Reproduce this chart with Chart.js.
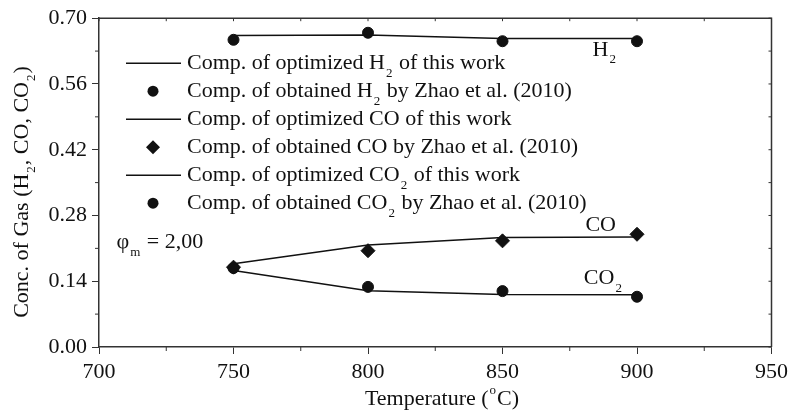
<!DOCTYPE html>
<html>
<head>
<meta charset="utf-8">
<script src="https://cdn.jsdelivr.net/npm/chart.js@4"></script>
<style>
  html, body { margin: 0; padding: 0; background: #fff; }
  #wrap { width: 793px; height: 412px; }
</style>
</head>
<body>
<div id="wrap"><canvas id="gasChart" width="793" height="412"></canvas></div>
<script>
// data
const temps = [750, 800, 850, 900];
const h2Model = [0.663, 0.664, 0.657, 0.657];
const h2Zhao = [0.654, 0.669, 0.651, 0.651];
const coModel = [0.177, 0.217, 0.233, 0.234];
const coZhao = [0.170, 0.205, 0.226, 0.240];
const co2Model = [0.163, 0.120, 0.112, 0.111];
const co2Zhao = [0.168, 0.128, 0.119, 0.107];

const xTicks = [700, 750, 800, 850, 900, 950];
const xMinor = [725, 775, 825, 875, 925];
const yTicks = [0, 0.14, 0.28, 0.42, 0.56, 0.70];
const yMinor = [0.07, 0.21, 0.35, 0.49, 0.63];

const FONT = '"Liberation Serif", "Times New Roman", serif';
const SIZE = 22;
const INK = '#111';

const pts = arr => temps.map((t, i) => ({ x: t, y: arr[i] }));

// text with sub/superscripts: parts like ['H', ['2', 'sub'], ...]
function richWidth(ctx, parts, size) {
  let w = 0;
  parts.forEach(p => {
    if (typeof p === 'string') { ctx.font = size + 'px ' + FONT; w += ctx.measureText(p).width; }
    else { ctx.font = Math.round(size * 0.6) + 'px ' + FONT; w += ctx.measureText(p[0]).width + 2; }
  });
  return w;
}
function drawRich(ctx, parts, x, y, size, align) {
  let cx = align === 'center' ? x - richWidth(ctx, parts, size) / 2 : x;
  ctx.textBaseline = 'middle';
  ctx.textAlign = 'left';
  ctx.fillStyle = INK;
  parts.forEach(p => {
    if (typeof p === 'string') {
      ctx.font = size + 'px ' + FONT;
      ctx.fillText(p, cx, y);
      cx += ctx.measureText(p).width;
    } else {
      ctx.font = Math.round(size * 0.6) + 'px ' + FONT;
      const dy = p[1] === 'sub' ? size * 0.45 : -size * 0.38;
      ctx.fillText(p[0], cx + 1, y + dy);
      cx += ctx.measureText(p[0]).width + 2;
    }
  });
}

const legendRows = [
  { kind: 'line', parts: ['Comp. of optimized H', ['2', 'sub'], ' of this work'] },
  { kind: 'circle', parts: ['Comp. of obtained H', ['2', 'sub'], ' by Zhao et al. (2010)'] },
  { kind: 'line', parts: ['Comp. of optimized CO of this work'] },
  { kind: 'diamond', parts: ['Comp. of obtained CO by Zhao et al. (2010)'] },
  { kind: 'line', parts: ['Comp. of optimized CO', ['2', 'sub'], ' of this work'] },
  { kind: 'circle', parts: ['Comp. of obtained CO', ['2', 'sub'], ' by Zhao et al. (2010)'] }
];

const decorations = {
  id: 'decorations',
  afterDraw(chart) {
    const ctx = chart.ctx;
    const a = chart.chartArea;
    const xs = chart.scales.x, ys = chart.scales.y;
    ctx.save();
    ctx.strokeStyle = '#333';
    ctx.lineWidth = 1.5;
    // frame top and right
    ctx.beginPath();
    ctx.moveTo(a.left, a.top); ctx.lineTo(a.right, a.top); ctx.lineTo(a.right, a.bottom);
    ctx.stroke();
    // minor ticks outside, small inward ticks on top/right
    ctx.lineWidth = 1;
    ctx.beginPath();
    xMinor.forEach(v => { const px = xs.getPixelForValue(v); ctx.moveTo(px, a.bottom); ctx.lineTo(px, a.bottom + 4); });
    yMinor.forEach(v => { const py = ys.getPixelForValue(v); ctx.moveTo(a.left, py); ctx.lineTo(a.left - 4, py); });
    xTicks.concat(xMinor).forEach(v => { const px = xs.getPixelForValue(v); ctx.moveTo(px, a.top); ctx.lineTo(px, a.top + 3); });
    yTicks.concat(yMinor).forEach(v => { const py = ys.getPixelForValue(v); ctx.moveTo(a.right, py); ctx.lineTo(a.right - 3, py); });
    ctx.stroke();

    // legend
    const lx = a.left + 54, ty = a.top + 45, gap = 28;
    legendRows.forEach((r, i) => {
      const y = ty + i * gap;
      ctx.fillStyle = INK; ctx.strokeStyle = INK;
      if (r.kind === 'line') {
        ctx.lineWidth = 1.5;
        ctx.beginPath(); ctx.moveTo(lx - 27, y); ctx.lineTo(lx + 28, y); ctx.stroke();
      } else if (r.kind === 'circle') {
        ctx.beginPath(); ctx.arc(lx, y, 5.5, 0, Math.PI * 2); ctx.fill();
      } else {
        ctx.beginPath();
        ctx.moveTo(lx, y - 7); ctx.lineTo(lx + 7, y); ctx.lineTo(lx, y + 7); ctx.lineTo(lx - 7, y);
        ctx.closePath(); ctx.fill();
      }
      drawRich(ctx, r.parts, lx + 34, y, SIZE, 'left');
    });

    // curve labels
    drawRich(ctx, ['H', ['2', 'sub']], xs.getPixelForValue(888), ys.getPixelForValue(0.632), SIZE, 'center');
    drawRich(ctx, ['CO'], xs.getPixelForValue(886.5), ys.getPixelForValue(0.259), SIZE, 'center');
    drawRich(ctx, ['CO', ['2', 'sub']], xs.getPixelForValue(887.5), ys.getPixelForValue(0.146), SIZE, 'center');
    drawRich(ctx, ['\u03c6', ['m', 'sub'], ' = 2,00'], xs.getPixelForValue(706.5), ys.getPixelForValue(0.223), SIZE, 'left');

    // axis titles
    drawRich(ctx, ['Temperature (', ['o', 'sup'], 'C)'], 442, 399, SIZE, 'center');
    ctx.translate(22, 192);
    ctx.rotate(-Math.PI / 2);
    drawRich(ctx, ['Conc. of Gas (H', ['2', 'sub'], ', CO, CO', ['2', 'sub'], ')'], 0, 0, SIZE, 'center');
    ctx.restore();
  }
};

const ctx = document.getElementById('gasChart').getContext('2d');
new Chart(ctx, {
  type: 'line',
  data: {
    datasets: [
      { label: 'Comp. of optimized H2 of this work', data: pts(h2Model), borderColor: INK, borderWidth: 1.5, pointRadius: 0, tension: 0 },
      { label: 'Comp. of obtained H2 by Zhao et al. (2010)', data: pts(h2Zhao), showLine: false, pointStyle: 'circle', pointRadius: 5.5, backgroundColor: INK, borderColor: INK },
      { label: 'Comp. of optimized CO of this work', data: pts(coModel), borderColor: INK, borderWidth: 1.5, pointRadius: 0, tension: 0 },
      { label: 'Comp. of obtained CO by Zhao et al. (2010)', data: pts(coZhao), showLine: false, pointStyle: 'rectRot', pointRadius: 7, backgroundColor: INK, borderColor: INK },
      { label: 'Comp. of optimized CO2 of this work', data: pts(co2Model), borderColor: INK, borderWidth: 1.5, pointRadius: 0, tension: 0 },
      { label: 'Comp. of obtained CO2 by Zhao et al. (2010)', data: pts(co2Zhao), showLine: false, pointStyle: 'circle', pointRadius: 5.5, backgroundColor: INK, borderColor: INK }
    ]
  },
  options: {
    responsive: false,
    animation: false,
    layout: { padding: { top: 16, right: 20, left: 0, bottom: 0 } },
    plugins: { legend: { display: false }, tooltip: { enabled: false } },
    scales: {
      x: {
        type: 'linear',
        min: 700, max: 950,
        afterBuildTicks: s => { s.ticks = xTicks.map(v => ({ value: v })); },
        afterFit: s => { s.height = 65; },
        ticks: { color: INK, font: { family: FONT, size: SIZE }, padding: 5, maxRotation: 0 },
        grid: { drawOnChartArea: false, drawTicks: true, tickLength: 7, color: '#333' },
        border: { display: true, color: '#333', width: 1.5 }
      },
      y: {
        min: 0, max: 0.70,
        afterBuildTicks: s => { s.ticks = yTicks.map(v => ({ value: v })); },
        afterFit: s => { s.width = 99; },
        ticks: { color: INK, font: { family: FONT, size: SIZE }, padding: 5, callback: v => v.toFixed(2) },
        grid: { drawOnChartArea: false, drawTicks: true, tickLength: 7, color: '#333' },
        border: { display: true, color: '#333', width: 1.5 }
      }
    }
  },
  plugins: [decorations]
});
</script>
</body>
</html>
